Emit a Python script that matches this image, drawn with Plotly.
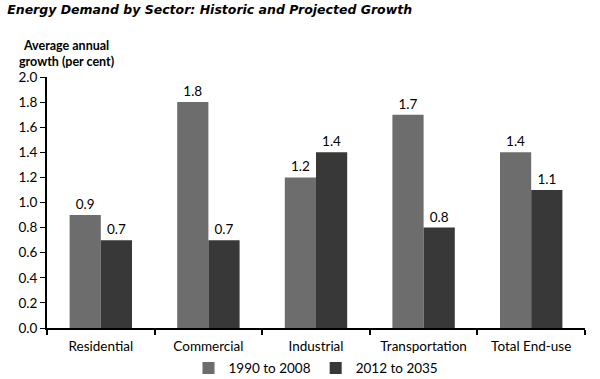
import plotly.graph_objects as go

categories = ["Residential", "Commercial", "Industrial", "Transportation", "Total End-use"]
hist = [0.9, 1.8, 1.2, 1.7, 1.4]
proj = [0.7, 0.7, 1.4, 0.8, 1.1]
series_names = ["1990 to 2008", "2012 to 2035"]
colors = ["#6d6d6d", "#383838"]

font = "Lato, Open Sans, sans-serif"

fig = go.Figure()
for name, vals, c in zip(series_names, [hist, proj], colors):
    fig.add_trace(go.Bar(
        x=categories, y=vals, name=name, marker_color=c, marker_line_width=0,
        text=[f"{v:.1f}" for v in vals], textposition="outside",
        textfont=dict(size=13.5, color="#000000", family=font), cliponaxis=False,
    ))

fig.update_layout(
    width=600, height=379,
    margin=dict(l=47, r=15, t=77, b=51, autoexpand=False),
    paper_bgcolor="white", plot_bgcolor="white",
    barmode="group", bargap=0.42, bargroupgap=0,
    font=dict(family=font, size=13.5, color="#000000"),
    title=dict(text="<b><i>Energy Demand by Sector: Historic and Projected Growth</i></b>",
               x=0.012, xanchor="left", y=0.985, yanchor="top",
               font=dict(family="DejaVu Sans, sans-serif", size=12.5, color="#000")),
    legend=dict(orientation="h", x=0.5, xanchor="center", y=-0.16, yanchor="middle",
                font=dict(size=13.5), itemwidth=30, traceorder="normal",
                tracegroupgap=0, bgcolor="rgba(0,0,0,0)"),
    showlegend=True,
)
fig.update_yaxes(range=[0, 2.0], dtick=0.2, tickformat=".1f", showgrid=False,
                 showline=True, linecolor="#000", linewidth=2, ticks="outside",
                 ticklen=5, tickcolor="#000", tickwidth=1, zeroline=False,
                 tickfont=dict(size=13.5))
fig.update_xaxes(showline=True, linecolor="#000", linewidth=1.5, ticks="outside",
                 tickson="boundaries", ticklen=5, tickcolor="#000", tickwidth=1.5,
                 showgrid=False, tickfont=dict(size=13.5), ticklabelstandoff=5)
fig.add_annotation(text="<b>Average annual<br>growth (per cent)</b>", xref="paper", yref="paper",
                   x=0.037, y=1.0, yshift=7, xanchor="center", yanchor="bottom", showarrow=False,
                   align="center", borderpad=0, font=dict(size=12.5, family=font))
fig.write_html("out.html", config={"displayModeBar": False},
               post_script="document.body.style.margin='0';document.body.style.overflow='hidden';")
